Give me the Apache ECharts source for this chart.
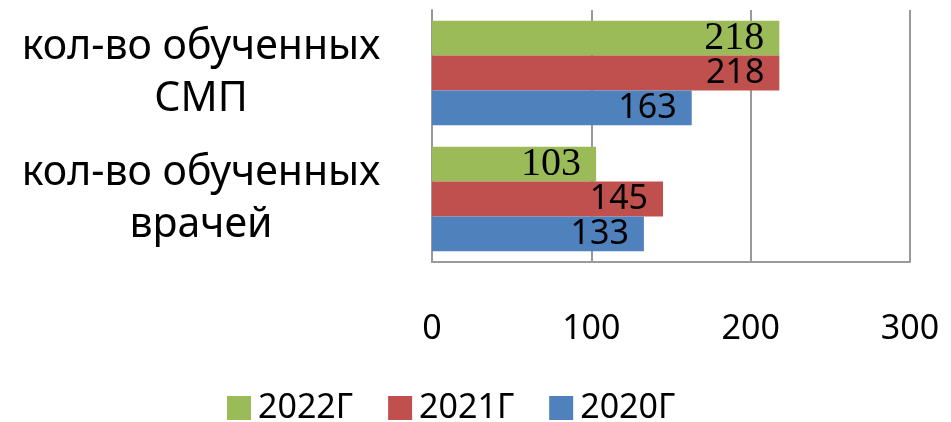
<!DOCTYPE html>
<html>
<head>
<meta charset="utf-8">
<script src="https://cdn.jsdelivr.net/npm/echarts@6/dist/echarts.min.js"></script>
<style>
  html, body { margin: 0; padding: 0; background: #fff; }
  #chart { width: 951px; height: 422px; }
</style>
</head>
<body>
<div id="chart"></div>
<script>
// Categories, top to bottom
const categories = ['кол-во обученных\nСМП', 'кол-во обученных\nврачей'];
// Values per year, same order as categories
const years = ['2022Г', '2021Г', '2020Г'];
const values2022 = [218, 103];
const values2021 = [218, 145];
const values2020 = [163, 133];
const xTicks = [0, 100, 200, 300];

const colors = ['#9BBB59', '#C0504D', '#4F81BD'];
const seriesValues = [values2022, values2021, values2020];
const labelFonts = ['"Liberation Serif", serif', '"Noto Sans", sans-serif', '"Noto Sans", sans-serif'];
const labelSizes = [40, 34, 34];

const chart = echarts.init(document.getElementById('chart'));

const series = years.map((name, i) => ({
  name: name,
  type: 'bar',
  data: seriesValues[i],
  barGap: '0%',
  barCategoryGap: '17%',
  itemStyle: { color: colors[i] },
  label: {
    show: true,
    position: 'insideRight',
    distance: 15,
    color: '#000',
    fontFamily: labelFonts[i],
    fontSize: labelSizes[i]
  }
}));

chart.setOption({
  animation: false,
  backgroundColor: '#fff',
  grid: { left: 432, right: 41, top: 10, bottom: 160, containLabel: false },
  xAxis: {
    type: 'value',
    min: xTicks[0],
    max: xTicks[xTicks.length - 1],
    interval: 100,
    axisLine: { show: true, lineStyle: { color: '#999', width: 2 } },
    axisTick: { show: false },
    splitLine: { show: true, lineStyle: { color: '#999', width: 2 } },
    axisLabel: {
      margin: 50,
      color: '#000',
      fontFamily: '"Noto Sans", sans-serif',
      fontSize: 34
    }
  },
  yAxis: {
    type: 'category',
    inverse: true,
    data: categories,
    axisLine: { show: true, lineStyle: { color: '#999', width: 2 } },
    axisTick: { show: false },
    axisLabel: {
      align: 'center',
      margin: 231,
      color: '#000',
      fontFamily: '"Noto Sans", sans-serif',
      fontSize: 41,
      lineHeight: 52
    }
  },
  legend: {
    data: years,
    left: 222,
    top: 386,
    itemWidth: 24,
    itemHeight: 24,
    itemGap: 35,
    icon: 'rect',
    textStyle: {
      color: '#000',
      fontFamily: '"Noto Sans", sans-serif',
      fontSize: 34,
      padding: [0, 0, 0, 2]
    }
  },
  series: series
});
</script>
</body>
</html>
